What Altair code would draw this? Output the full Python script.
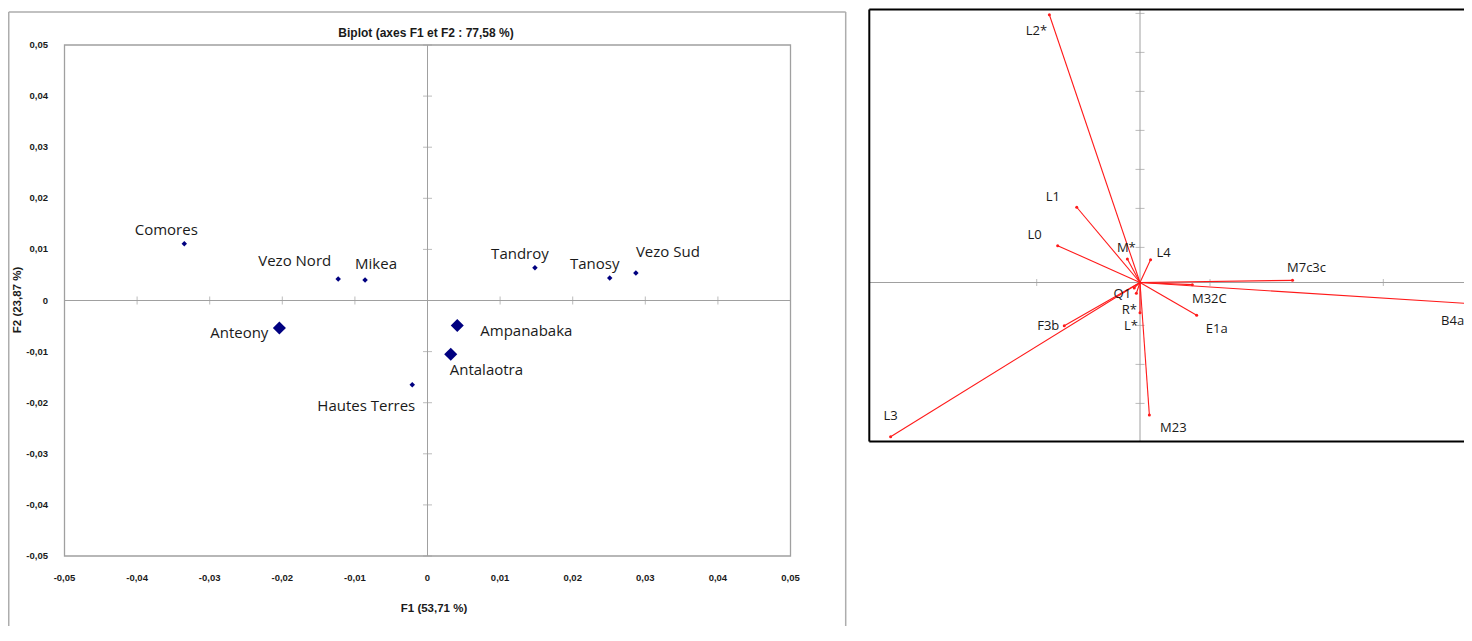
import altair as alt
import pandas as pd

# ---------------- data ----------------
# Left panel: observations on F1 / F2
POP_NAMES = ["Comores", "Vezo Nord", "Mikea", "Anteony", "Hautes Terres",
             "Tandroy", "Tanosy", "Vezo Sud", "Ampanabaka", "Antalaotra"]
POP_F1 = [-0.0335, -0.0123, -0.0086, -0.0204, -0.0021,
          0.0148, 0.0251, 0.0287, 0.0041, 0.0032]
POP_F2 = [0.0111, 0.0042, 0.0040, -0.0054, -0.0165,
          0.0064, 0.0044, 0.0054, -0.0049, -0.0105]
POP_BIG = ["Anteony", "Ampanabaka", "Antalaotra"]

TICKS = [-0.05, -0.04, -0.03, -0.02, -0.01, 0.0, 0.01, 0.02, 0.03, 0.04, 0.05]
TICK_LABELS = ["-0,05", "-0,04", "-0,03", "-0,02", "-0,01", "0",
               "0,01", "0,02", "0,03", "0,04", "0,05"]
AX_MIN, AX_MAX = -0.05, 0.05

TITLE = "Biplot (axes F1 et F2 : 77,58 %)"
XTITLE = "F1 (53,71 %)"
YTITLE = "F2 (23,87 %)"

# Right panel: variable vectors
VAR_NAMES = ["L2*", "L1", "L0", "M*", "L4", "M7c3c", "M32C", "B4a",
             "E1a", "M23", "L*", "R*", "Q1", "F3b", "L3"]
VAR_X = [-0.523, -0.365, -0.475, -0.073, 0.061, 0.880, 0.302, 1.879,
         0.327, 0.054, 0.000, -0.021, -0.033, -0.437, -1.439]
VAR_Y = [1.373, 0.386, 0.189, 0.121, 0.117, 0.011, -0.011, -0.107,
         -0.168, -0.679, -0.155, -0.055, -0.028, -0.222, -0.791]
R_XTICKS = [-0.596, 0.404, 1.404]
R_YTICKS = [-0.62, -0.42, -0.22, 0.18, 0.38, 0.58, 0.78, 0.98, 1.18, 1.38]

# ---------------- styling ----------------
W, H = 1456, 618
NAVY = "#000080"
GRID = "#A0A0A0"
RED = "#FF1A1A"
TXT = "#1A1A1A"
FONT = "Open Sans"
BFONT = "Liberation Sans"

LEFT_LABEL_STYLE = {
    "Comores": ("center", -18, -14),
    "Vezo Nord": ("right", -7, -18),
    "Mikea": ("left", -10, -16),
    "Anteony": ("right", -11, 5),
    "Hautes Terres": ("right", 3, 21),
    "Tandroy": ("center", -15, -14),
    "Tanosy": ("center", -15, -14),
    "Vezo Sud": ("center", 32, -21),
    "Ampanabaka": ("left", 23, 5),
    "Antalaotra": ("left", -1, 16),
}
RIGHT_LABEL_OFFSETS = {
    "L2*": (-13, 16), "L1": (-24, -10), "L0": (-23, -11), "M*": (-1, -11),
    "L4": (13, -7), "M7c3c": (14, -12), "M32C": (17, 14), "B4a": (-13, 18),
    "E1a": (20, 14), "M23": (24, 13), "L*": (-9, 13), "R*": (-7, 17),
    "Q1": (-12, 6), "F3b": (-16, 0), "L3": (0, -21),
}

# ---------------- left panel ----------------
xs = alt.Scale(domain=[AX_MIN, AX_MAX], range=[56.5, 782.5], nice=False, zero=False)
ys = alt.Scale(domain=[AX_MIN, AX_MAX], range=[548, 37], nice=False, zero=False)

pop = pd.DataFrame({"name": POP_NAMES, "f1": POP_F1, "f2": POP_F2})
pop["big"] = pop["name"].isin(POP_BIG)
ticks = pd.DataFrame({"v": TICKS, "lab": TICK_LABELS})
zero_df = pd.DataFrame({"z": [0.0], "lo": [AX_MIN], "hi": [AX_MAX]})

X = lambda f: alt.X(f, type="quantitative", scale=xs, axis=None)
Y = lambda f: alt.Y(f, type="quantitative", scale=ys, axis=None)

left_layers = []
# outer frame (top, left, right)
frame_c = "#ADADAD"
left_layers.append(alt.Chart().mark_rule(color=frame_c, strokeWidth=1.5).encode(
    x=alt.value(0.75), x2=alt.value(837.7), y=alt.value(4)))
left_layers.append(alt.Chart().mark_rule(color=frame_c, strokeWidth=1.5).encode(
    x=alt.value(0.75), y=alt.value(4), y2=alt.value(H)))
left_layers.append(alt.Chart().mark_rule(color=frame_c, strokeWidth=1.5).encode(
    x=alt.value(837.7), y=alt.value(4), y2=alt.value(H)))
# inner box
left_layers.append(alt.Chart(zero_df).mark_rect(fillOpacity=0, stroke=GRID, strokeWidth=1.3).encode(
    x=X("lo"), x2="hi", y=Y("lo"), y2="hi"))
# zero lines
left_layers.append(alt.Chart(zero_df).mark_rule(color=GRID, strokeWidth=1).encode(
    x=X("lo"), x2="hi", y=Y("z")))
left_layers.append(alt.Chart(zero_df).mark_rule(color=GRID, strokeWidth=1).encode(
    y=Y("lo"), y2="hi", x=X("z")))
# tick marks on zero lines
left_layers.append(alt.Chart(ticks).mark_tick(orient="vertical", color=GRID, size=8, thickness=1).encode(
    x=X("v"), y=alt.Y("z:Q", scale=ys, axis=None)).transform_calculate(z="0"))
left_layers.append(alt.Chart(ticks).mark_tick(orient="horizontal", color=GRID, size=9, thickness=1).encode(
    y=Y("v"), x=alt.X("z:Q", scale=xs, axis=None)).transform_calculate(z="0"))
# tick labels
left_layers.append(alt.Chart(ticks).mark_text(font=BFONT, fontSize=9.5, fontWeight="bold", color=TXT,
                                              baseline="middle", align="center").encode(
    x=X("v"), y=alt.value(570), text="lab:N"))
left_layers.append(alt.Chart(ticks).mark_text(font=BFONT, fontSize=9.5, fontWeight="bold", color=TXT,
                                              baseline="middle", align="right").encode(
    y=Y("v"), x=alt.value(40), text="lab:N"))
# titles
left_layers.append(alt.Chart().mark_text(text=TITLE, font=BFONT, fontSize=12, fontWeight="bold",
                                         color=TXT, baseline="middle", align="center").encode(
    x=alt.value(418), y=alt.value(25)))
left_layers.append(alt.Chart().mark_text(text=XTITLE, font=BFONT, fontSize=11.5, fontWeight="bold",
                                         color=TXT, baseline="middle", align="center").encode(
    x=alt.value(426), y=alt.value(601)))
left_layers.append(alt.Chart().mark_text(text=YTITLE, font=BFONT, fontSize=11.5, fontWeight="bold",
                                         color=TXT, baseline="middle", align="center", angle=270).encode(
    x=alt.value(10), y=alt.value(292)))
# points
left_layers.append(alt.Chart(pop).mark_point(shape="diamond", filled=True, color=NAVY, opacity=1).encode(
    x=X("f1"), y=Y("f2"),
    size=alt.Size("big:N", scale=alt.Scale(domain=[False, True], range=[30, 170]), legend=None)))
# labels
for nm, (al, dx, dy) in LEFT_LABEL_STYLE.items():
    left_layers.append(alt.Chart(pop).transform_filter(alt.datum.name == nm).mark_text(
        font=FONT, fontSize=15, color=TXT, align=al, baseline="middle", dx=dx, dy=dy).encode(
        x=X("f1"), y=Y("f2"), text="name:N"))

left = alt.layer(*left_layers)

# ---------------- right panel ----------------
rxs = alt.Scale(domain=[-1, 1], range=[1132 - 173.3, 1132 + 173.3], nice=False, zero=False)
rys = alt.Scale(domain=[-1, 1], range=[274.5 + 195, 274.5 - 195], nice=False, zero=False)
RX = lambda f: alt.X(f, type="quantitative", scale=rxs, axis=None)
RY = lambda f: alt.Y(f, type="quantitative", scale=rys, axis=None)

var = pd.DataFrame({"name": VAR_NAMES, "x": VAR_X, "y": VAR_Y})
var["o"] = 0.0
rxt = pd.DataFrame({"v": R_XTICKS, "z": [0.0] * len(R_XTICKS)})
ryt = pd.DataFrame({"v": R_YTICKS, "z": [0.0] * len(R_YTICKS)})
rz = pd.DataFrame({"z": [0.0]})

right_layers = []
# axes lines
right_layers.append(alt.Chart(rz).mark_rule(color=GRID, strokeWidth=1).encode(
    y=RY("z"), x=alt.value(862), x2=alt.value(W)))
right_layers.append(alt.Chart(rz).mark_rule(color=GRID, strokeWidth=1).encode(
    x=RX("z"), y=alt.value(2), y2=alt.value(433)))
right_layers.append(alt.Chart(rxt).mark_tick(orient="vertical", color=GRID, size=7, thickness=1).encode(
    x=RX("v"), y=RY("z")))
right_layers.append(alt.Chart(ryt).mark_tick(orient="horizontal", color=GRID, size=9, thickness=1).encode(
    y=RY("v"), x=RX("z")))
# box
right_layers.append(alt.Chart().mark_rule(color="#000000", strokeWidth=2).encode(
    x=alt.value(861.3), x2=alt.value(W), y=alt.value(1.5)))
right_layers.append(alt.Chart().mark_rule(color="#000000", strokeWidth=2).encode(
    x=alt.value(861.3), y=alt.value(1.5), y2=alt.value(433.5)))
right_layers.append(alt.Chart().mark_rule(color="#000000", strokeWidth=2).encode(
    x=alt.value(861.3), x2=alt.value(W), y=alt.value(433.5)))
# vectors
right_layers.append(alt.Chart(var).mark_rule(color=RED, strokeWidth=1.1).encode(
    x=RX("o"), y=RY("o"), x2="x", y2="y"))
right_layers.append(alt.Chart(var).mark_point(shape="circle", filled=True, color=RED, size=9, opacity=1).encode(
    x=RX("x"), y=RY("y")))
for nm, (dx, dy) in RIGHT_LABEL_OFFSETS.items():
    right_layers.append(alt.Chart(var).transform_filter(alt.datum.name == nm).mark_text(
        font=FONT, fontSize=13, color=TXT, align="center", baseline="middle", dx=dx, dy=dy).encode(
        x=RX("x"), y=RY("y"), text="name:N"))

right = alt.layer(*right_layers)

chart = alt.layer(left, right).resolve_scale(
    x="independent", y="independent", size="independent"
).properties(
    width=W, height=H, padding=0,
    autosize=alt.AutoSizeParams(type="none"),
).configure_view(strokeWidth=0)

chart.save("out.html", embed_options={"renderer": "svg", "actions": False})
